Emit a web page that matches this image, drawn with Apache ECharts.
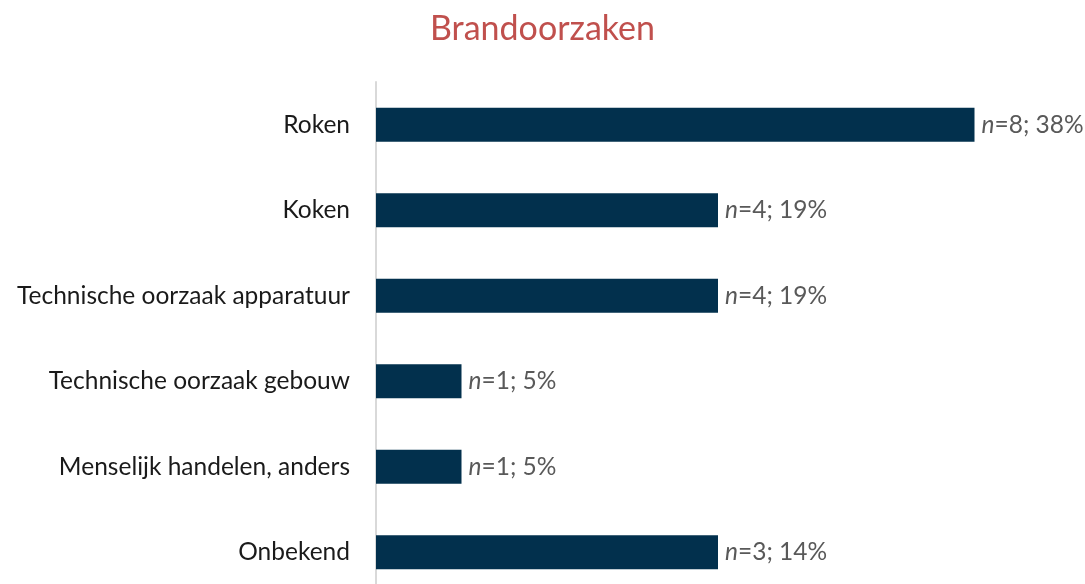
<!DOCTYPE html>
<html>
<head>
<meta charset="utf-8">
<script src="https://cdn.jsdelivr.net/npm/echarts@6/dist/echarts.min.js"></script>
<style>
  html, body { margin: 0; padding: 0; background: #fff; overflow: hidden; }
  #chart { width: 1085px; height: 600px; }
</style>
</head>
<body>
<div id="chart"></div>
<script>
// categories top to bottom
const categories = [
  'Roken',
  'Koken',
  'Technische oorzaak apparatuur',
  'Technische oorzaak gebouw',
  'Menselijk handelen, anders',
  'Onbekend'
]
// bar lengths as drawn in the picture
const barValues = [7, 4, 4, 1, 1, 4]
// label numbers
const counts = [8, 4, 4, 1, 1, 3]
const percents = [38, 19, 19, 5, 5, 14]

const fontFamily = 'Lato, "Open Sans", sans-serif'

const chart = echarts.init(document.getElementById('chart'))

// the plot runs a bit below the visible bottom, like the original
const option = {
  animation: false,
  title: {
    text: 'Brandoorzaken',
    left: 'center',
    top: 7,
    textStyle: {
      color: '#C0504D',
      fontSize: 34,
      fontWeight: 'normal',
      fontFamily: fontFamily
    }
  },
  grid: {
    left: 376,
    top: 82,
    width: 684,
    height: 513
  },
  xAxis: {
    type: 'value',
    min: 0,
    max: 8,
    show: false
  },
  yAxis: {
    type: 'category',
    inverse: true,
    data: categories,
    axisLine: { show: true, lineStyle: { color: '#D9D9D9', width: 2 } },
    axisTick: { show: false },
    axisLabel: {
      margin: 26,
      color: '#1A1A1A',
      fontSize: 24.5,
      fontFamily: fontFamily
    }
  },
  series: [
    {
      type: 'bar',
      data: barValues,
      barWidth: 34,
      itemStyle: { color: '#02304D' },
      label: {
        show: true,
        position: 'right',
        distance: 7,
        color: '#595959',
        fontSize: 24.5,
        fontFamily: fontFamily,
        formatter: (p) => `{i|n}=${counts[p.dataIndex]}; ${percents[p.dataIndex]}%`,
        rich: {
          i: { fontStyle: 'italic', color: '#595959', fontSize: 24.5, fontFamily: fontFamily }
        }
      }
    }
  ]
}

chart.setOption(option)
</script>
</body>
</html>
